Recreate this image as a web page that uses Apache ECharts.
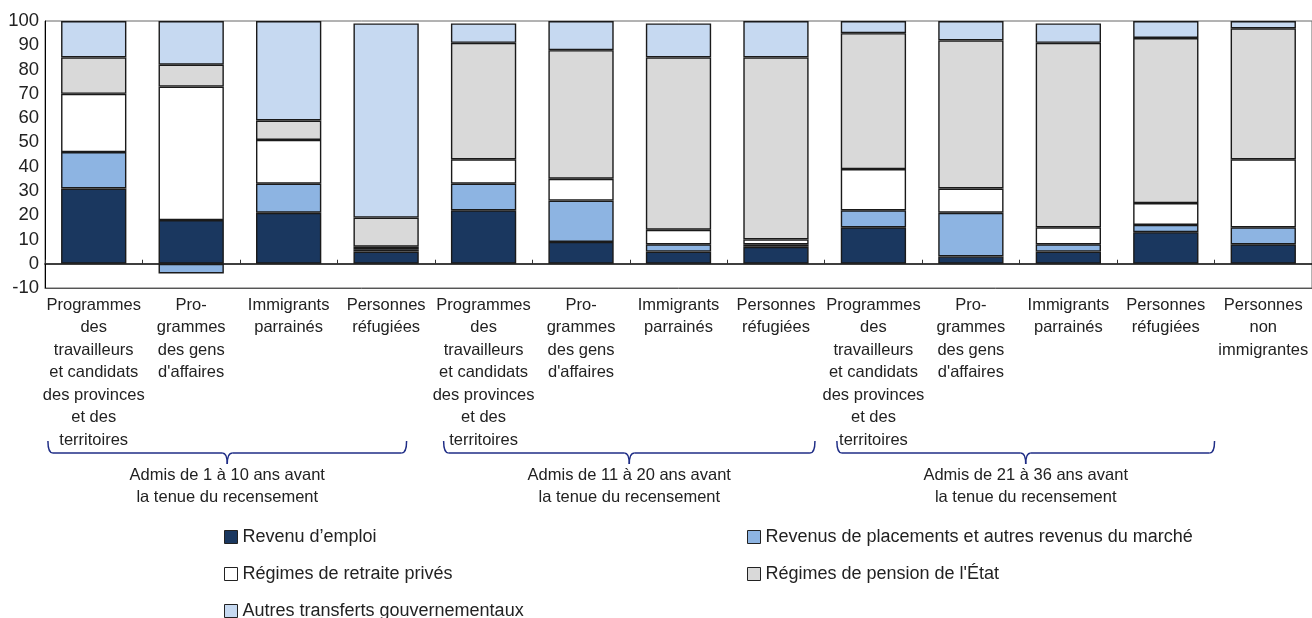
<!DOCTYPE html>
<html><head><meta charset="utf-8">
<script src="https://cdn.jsdelivr.net/npm/echarts@6/dist/echarts.min.js"></script>
<style>html,body{margin:0;padding:0;background:#fff}#c{width:1312px;height:618px}</style>
</head><body><div id="c"></div>
<script>
const categories = [
  "Programmes\ndes\ntravailleurs\net candidats\ndes provinces\net des\nterritoires",
  "Pro-\ngrammes\ndes gens\nd'affaires",
  "Immigrants\nparrainés",
  "Personnes\nréfugiées",
  "Programmes\ndes\ntravailleurs\net candidats\ndes provinces\net des\nterritoires",
  "Pro-\ngrammes\ndes gens\nd'affaires",
  "Immigrants\nparrainés",
  "Personnes\nréfugiées",
  "Programmes\ndes\ntravailleurs\net candidats\ndes provinces\net des\nterritoires",
  "Pro-\ngrammes\ndes gens\nd'affaires",
  "Immigrants\nparrainés",
  "Personnes\nréfugiées",
  "Personnes\nnon\nimmigrantes"
];
const seriesNames = [
  "Revenu d’emploi",
  "Revenus de placements et autres revenus du marché",
  "Régimes de retraite privés",
  "Régimes de pension de l'État",
  "Autres transferts gouvernementaux"
];
const revenuEmploi      = [31, 18, 21,  5, 22,  9,  5,  7, 15,  3,  5, 13,  8];
const revenusPlacements = [15, -4, 12,  1, 11, 17,  3,  1,  7, 18,  3,  3,  7];
const retraitePrives    = [24, 55, 18,  1, 10,  9,  6,  2, 17, 10,  7,  9, 28];
const pensionEtat       = [15,  9,  8, 12, 48, 53, 71, 75, 56, 61, 76, 68, 54];
const autresTransferts  = [15, 18, 41, 80,  8, 12, 14, 15,  5,  8,  8,  7,  3];
const groupLabels = [
  "Admis de 1 à 10 ans avant\nla tenue du recensement",
  "Admis de 11 à 20 ans avant\nla tenue du recensement",
  "Admis de 21 à 36 ans avant\nla tenue du recensement"
];
// brace spans in category-band units (0 = left edge of first category)
const groupSpans = [[0.03, 3.71], [4.09, 7.90], [8.125, 12.0]];

const colors = ["#1a375f", "#8db4e2", "#ffffff", "#d9d9d9", "#c6d9f1"];
const FONT = "'Liberation Sans', Arial, Helvetica, sans-serif";
const valueSets = [revenuEmploi, revenusPlacements, retraitePrives, pensionEtat, autresTransferts];

const legendCommon = {
  orient: 'vertical', top: 528, height: 110, padding: 0, itemWidth: 13, itemHeight: 13, itemGap: 19, icon: 'rect',
  itemStyle: {borderColor: '#222', borderWidth: 1},
  textStyle: {fontSize: 18, lineHeight: 18, color: '#222', fontFamily: FONT}
};

const chart = echarts.init(document.getElementById('c'), null, {renderer: 'canvas'});
chart.setOption({
  animation: false,
  backgroundColor: '#fff',
  grid: {left: 45, top: 21, width: 1269, height: 267, show: true, borderColor: '#666', borderWidth: 1, containLabel: false},
  xAxis: [
    {type: 'category', data: categories, position: 'bottom',
     axisLine: {show: true, onZero: true, lineStyle: {color: '#000', width: 1.5}},
     axisTick: {show: true, inside: true, length: 4, lineStyle: {color: '#333'}},
     axisLabel: {show: false}, splitLine: {show: false}},
    {type: 'category', data: categories, position: 'bottom',
     axisLine: {show: true, onZero: false, lineStyle: {color: '#555'}},
     axisTick: {show: false},
     axisLabel: {show: true, interval: 0, fontSize: 16.5, lineHeight: 22.5, margin: 6, color: '#222', fontFamily: FONT},
     splitLine: {show: false}}
  ],
  yAxis: {type: 'value', min: -10, max: 100, interval: 10,
    axisLine: {show: true, lineStyle: {color: '#000', width: 1}},
    axisTick: {show: false}, splitLine: {show: false},
    axisLabel: {fontSize: 18.5, color: '#222', margin: 6, fontFamily: FONT}},
  legend: [
    Object.assign({left: 224, data: [seriesNames[0], seriesNames[2], seriesNames[4]]}, legendCommon),
    Object.assign({left: 747, data: [seriesNames[1], seriesNames[3]]}, legendCommon)
  ],
  series: valueSets.map((vals, i) => ({
    name: seriesNames[i], type: 'bar', stack: 'total', xAxisIndex: 0,
    barWidth: '67%', data: vals,
    itemStyle: {color: colors[i], borderColor: '#1a1a1a', borderWidth: 1.4}
  }))
});

// braces and group labels
const c0 = chart.convertToPixel({xAxisIndex: 0}, 0);
const c1 = chart.convertToPixel({xAxisIndex: 0}, 1);
const bw = c1 - c0;
const left0 = c0 - bw / 2;
const yTop = 441, yLine = 453, yTip = 464, r = 5;
const st = {stroke: '#1f2d86', lineWidth: 1.5, fill: null};
const graphics = [];
groupSpans.forEach((sp, i) => {
  const x0 = left0 + sp[0] * bw, x1 = left0 + sp[1] * bw, xm = (x0 + x1) / 2;
  graphics.push({type: 'bezierCurve', shape: {x1: x0, y1: yTop, cpx1: x0, cpy1: yLine, x2: x0 + r, y2: yLine}, style: st, silent: true});
  graphics.push({type: 'line', shape: {x1: x0 + r, y1: yLine, x2: xm - r, y2: yLine}, style: st, silent: true});
  graphics.push({type: 'bezierCurve', shape: {x1: xm - r, y1: yLine, cpx1: xm, cpy1: yLine, x2: xm, y2: yTip}, style: st, silent: true});
  graphics.push({type: 'bezierCurve', shape: {x1: xm, y1: yTip, cpx1: xm, cpy1: yLine, x2: xm + r, y2: yLine}, style: st, silent: true});
  graphics.push({type: 'line', shape: {x1: xm + r, y1: yLine, x2: x1 - r, y2: yLine}, style: st, silent: true});
  graphics.push({type: 'bezierCurve', shape: {x1: x1 - r, y1: yLine, cpx1: x1, cpy1: yLine, x2: x1, y2: yTop}, style: st, silent: true});
  graphics.push({type: 'text', x: xm, y: 464, style: {text: groupLabels[i], fill: '#222', fontSize: 16.5, fontFamily: FONT, lineHeight: 22, align: 'center', verticalAlign: 'top'}, silent: true});
});
chart.setOption({graphic: graphics});
</script>
</body></html>
